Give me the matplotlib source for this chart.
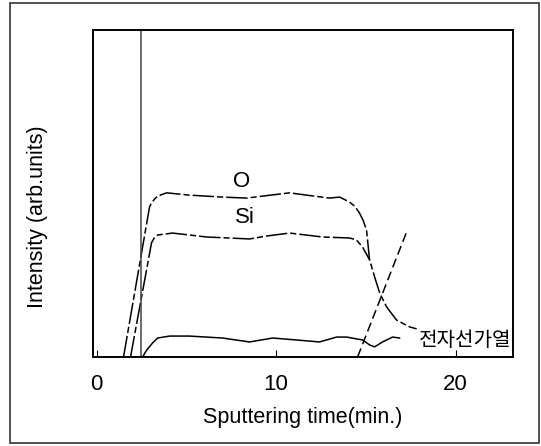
"""
AES depth profile: intensity vs sputtering time
"""
import matplotlib
matplotlib.use("Agg")
import matplotlib.pyplot as plt
from matplotlib.patches import Rectangle

plt.rcParams['font.family'] = ['Liberation Sans Narrow', 'Liberation Sans', 'DejaVu Sans']

# data (time in min, intensity in arb. units)
o_time = [1.50, 2.95, 3.06, 3.23, 3.40, 3.90, 5.18, 7.02, 8.36, 9.25, 10.75, 11.70, 12.98, 13.54,
          14.09, 14.40, 14.65, 14.85, 15.04, 15.21, 15.49, 15.77, 16.16, 16.71, 17.44, 17.83]
o_int = [0, 45.9, 47.1, 48.3, 49.2, 50.2, 49.5, 48.9, 48.6, 49.2, 50.2, 49.5, 48.6, 48.9,
         47.4, 46.0, 44.0, 41.8, 38.8, 29.7, 24.5, 19.6, 15.3, 11.3, 9.2, 8.6]

si_time = [1.89, 3.06, 3.18, 3.29, 3.40, 4.23, 6.13, 8.52, 9.47, 10.75, 12.59, 14.09, 14.48,
           14.82, 15.21]
si_int = [0, 34.9, 36.1, 37.0, 37.3, 37.9, 36.7, 36.1, 37.0, 37.9, 36.7, 36.4, 35.8, 33.6, 29.7]

low_time = [2.56, 2.79, 3.12, 3.40, 4.07, 5.18, 7.02, 8.52, 9.81, 11.14, 12.42, 13.37, 13.93,
            14.82, 15.21, 15.49, 15.93, 16.49, 16.88]
low_int = [0, 2.1, 4.3, 5.8, 6.4, 6.4, 5.8, 4.6, 5.8, 5.2, 4.6, 6.1, 6.1,
           5.2, 3.7, 3.1, 4.6, 6.1, 5.8]

rise_time = [14.54, 17.27]
rise_int = [0, 38.2]

shutter_time = 2.5

fig = plt.figure(figsize=(5.41, 4.46), dpi=100)
fig.patches.append(Rectangle((10/541, 3/446), 529/541, 440/446, transform=fig.transFigure,
                             fill=False, edgecolor='#333333', linewidth=1.2))
ax = fig.add_axes([93/541, 1-357/446, 420/541, 327/446])

ax.plot(o_time, o_int, color='black', lw=1.1, linestyle=(0, (14, 2, 4, 2)))
ax.plot(si_time, si_int, color='black', lw=1.1, linestyle=(0, (14, 2, 4, 2)))
ax.plot(low_time, low_int, color='black', lw=1.1)
ax.plot(rise_time, rise_int, color='black', lw=1.1, linestyle=(0, (6, 3)))
ax.axvline(shutter_time, color='#444444', lw=1.1)

ax.text(8.1, 53.8, 'O', fontsize=16, ha='center', va='center')
ax.text(8.25, 42.8, 'Si', fontsize=16, ha='center', va='center')
ax.text(17.95, 5.0, '전자선가열', fontsize=14.5, ha='left', va='center',
        family=['Noto Sans CJK KR', 'DejaVu Sans'])

ax.set_xlim(-0.2, 23.2)
ax.set_ylim(0, 100)
ax.set_xticks([0, 10, 20])
ax.set_yticks([])
ax.tick_params(axis='x', direction='in', length=5, labelsize=16, pad=12)
for s in ax.spines.values():
    s.set_linewidth(1.4)
ax.set_xlabel('Sputtering time(min.)', fontsize=15.5, labelpad=9)
ax.set_ylabel('Intensity (arb.units)', fontsize=15.5)
ax.yaxis.set_label_coords(-0.107, 0.43)

fig.savefig('out.png', dpi=100)
